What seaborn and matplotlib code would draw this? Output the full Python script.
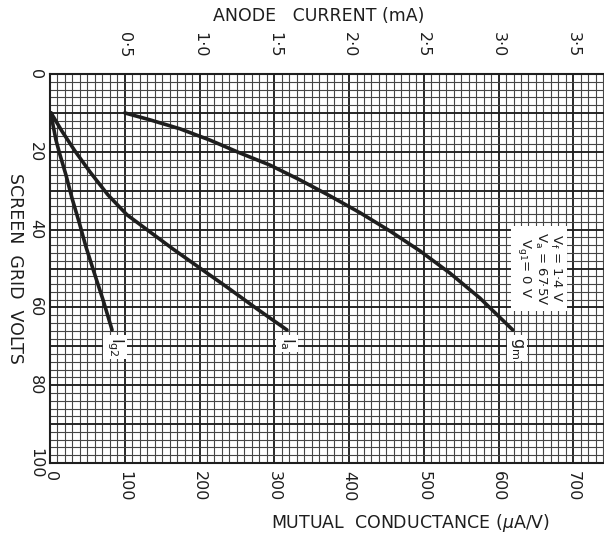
import matplotlib
matplotlib.use("Agg")
import matplotlib.pyplot as plt
import seaborn as sns
import pandas as pd
from matplotlib.ticker import MultipleLocator, FixedLocator, FuncFormatter

# --- data -------------------------------------------------------------
# mutual conductance (uA/V) against screen grid volts
gm_volts = [10.0, 11.8, 14.1, 17.0, 20.3, 23.4, 27.2, 31.4, 35.7, 40.4, 45.5, 51.2, 57.6, 65.8]
gm_values = [100, 134, 174, 214, 254, 294, 334, 375, 415, 455, 495, 535, 575, 619]

# anode current (mA) against screen grid volts
ia_volts = [10.0, 14.7, 19.8, 25.2, 31.1, 36.2, 40.6, 45.0, 49.9, 54.8, 60.4, 65.8]
ia_values = [0.007, 0.080, 0.167, 0.268, 0.388, 0.515, 0.669, 0.823, 1.003, 1.184, 1.385, 1.585]

# screen grid current (mA) against screen grid volts
ig2_volts = [10.0, 13.1, 17.0, 20.8, 26.0, 31.9, 38.0, 44.5, 50.9, 58.1, 65.8]
ig2_values = [0.007, 0.020, 0.040, 0.067, 0.107, 0.147, 0.194, 0.241, 0.294, 0.355, 0.415]

gm_ticks = [0, 100, 200, 300, 400, 500, 600, 700]
ia_ticks = [0.5, 1.0, 1.5, 2.0, 2.5, 3.0, 3.5]
ia_tick_labels = ["0·5", "1·0", "1·5", "2·0", "2·5", "3·0", "3·5"]

conditions = ["$\\mathrm{V_f}$ = 1·4 V", "$\\mathrm{V_a}$ = 67·5V", "$\\mathrm{V_{g1}}$= 0 V"]

# --- figure -------------------------------------------------------------
sns.set_theme(style="white")
plt.rcParams['font.family'] = ['DejaVu Sans']
plt.rcParams['mathtext.fontset'] = 'dejavusans'

ink = "#1e1e1e"
fig = plt.figure(figsize=(6.04, 5.41), dpi=100)
fig.patch.set_facecolor("white")
ax = fig.add_axes([50 / 604, 1 - 463 / 541, 554 / 604, 389 / 541])

gm_max = 741.0
ax.set_xlim(0, gm_max)
ax.set_ylim(100, 0)

# graph-paper grid
ax.xaxis.set_major_locator(FixedLocator(gm_ticks))
ax.xaxis.set_minor_locator(MultipleLocator(10))
ax.yaxis.set_major_locator(MultipleLocator(10))
ax.yaxis.set_minor_locator(MultipleLocator(2))
ax.grid(which="minor", color="#454545", linewidth=0.8)
ax.grid(which="major", color=ink, linewidth=1.35)
ax.set_axisbelow(True)

for side in ["left", "top", "bottom"]:
    ax.spines[side].set_color(ink)
    ax.spines[side].set_linewidth(1.5)
ax.spines["right"].set_visible(False)

ax.yaxis.set_major_formatter(FuncFormatter(lambda v, p: f"{int(v)}" if int(v) % 20 == 0 else ""))
ax.tick_params(axis="both", which="both", length=0, colors=ink)
ax.tick_params(axis="y", pad=5, labelsize=11.5)
ax.tick_params(axis="x", pad=6, labelsize=11.5)
for lab in ax.get_yticklabels():
    lab.set_rotation(-90)
    lab.set_ha("right")
    lab.set_va("center")
for lab in ax.get_xticklabels():
    lab.set_rotation(-90)
    lab.set_ha("center")
    lab.set_va("top")

# anode current scale along the top
ax2 = ax.twiny()
ax2.set_xlim(0, gm_max / 200)
ax2.xaxis.set_major_locator(FixedLocator(ia_ticks))
ax2.set_xticklabels(ia_tick_labels)
ax2.tick_params(axis="x", length=0, pad=12, labelsize=11.5, colors=ink)
for lab in ax2.get_xticklabels():
    lab.set_rotation(-90)
    lab.set_ha("center")
    lab.set_va("bottom")
for side in ["left", "right", "top", "bottom"]:
    ax2.spines[side].set_visible(False)

# curves
df_gm = pd.DataFrame({"volts": gm_volts, "gm": gm_values})
df_ia = pd.DataFrame({"volts": ia_volts, "current": ia_values})
df_ig2 = pd.DataFrame({"volts": ig2_volts, "current": ig2_values})

line_kw = dict(sort=False, color=ink, linewidth=2.6, estimator=None)
sns.lineplot(data=df_gm, x="gm", y="volts", ax=ax, **line_kw)
sns.lineplot(data=df_ia, x="current", y="volts", ax=ax2, **line_kw)
sns.lineplot(data=df_ig2, x="current", y="volts", ax=ax2, **line_kw)
for line in ax.lines + ax2.lines:
    line.set_solid_joinstyle("round")
    line.set_solid_capstyle("round")
ax2.set_ylim(100, 0)
ax2.set_ylabel("")

# axis titles
ax2.set_xlabel("ANODE   CURRENT (mA)", fontsize=12.5, color=ink)
ax2.xaxis.set_label_coords(0.485, 1.15)
ax2.xaxis.label.set_va("center")
ax.set_xlabel("MUTUAL  CONDUCTANCE ($\\mu$A/V)", fontsize=12.5, color=ink)
ax.xaxis.set_label_coords(0.65, -0.155)
ax.xaxis.label.set_va("center")
ax.set_ylabel("SCREEN  GRID  VOLTS", fontsize=12.5, color=ink, rotation=-90)
ax.yaxis.set_label_coords(-0.063, 0.5)
ax.yaxis.label.set_va("center")
ax.yaxis.label.set_ha("center")

# curve tags
box = dict(facecolor="white", edgecolor="none", pad=1.5)
ax.text(gm_values[-1] + 6, gm_volts[-1] + 1.8, "$\\mathrm{g_m}$", rotation=-90, ha="center", va="top",
        fontsize=11.5, color=ink, bbox=box)
ax2.text(ia_values[-1] + 0.0, ia_volts[-1] + 1.8, "$\\mathrm{I_a}$", rotation=-90, ha="center", va="top",
         fontsize=11.5, color=ink, bbox=box)
ax2.text(ig2_values[-1] + 0.02, ig2_volts[-1] + 1.8, "$\\mathrm{I_{g2}}$", rotation=-90, ha="center", va="top",
         fontsize=11.5, color=ink, bbox=box)

# operating conditions
ax.text(655, 50, "\n".join(conditions), rotation=-90, ha="center", va="center", fontsize=9.5,
        color=ink, linespacing=1.0, bbox=dict(facecolor="white", edgecolor="none", pad=4))

fig.savefig("out.png", dpi=100, facecolor="white")
